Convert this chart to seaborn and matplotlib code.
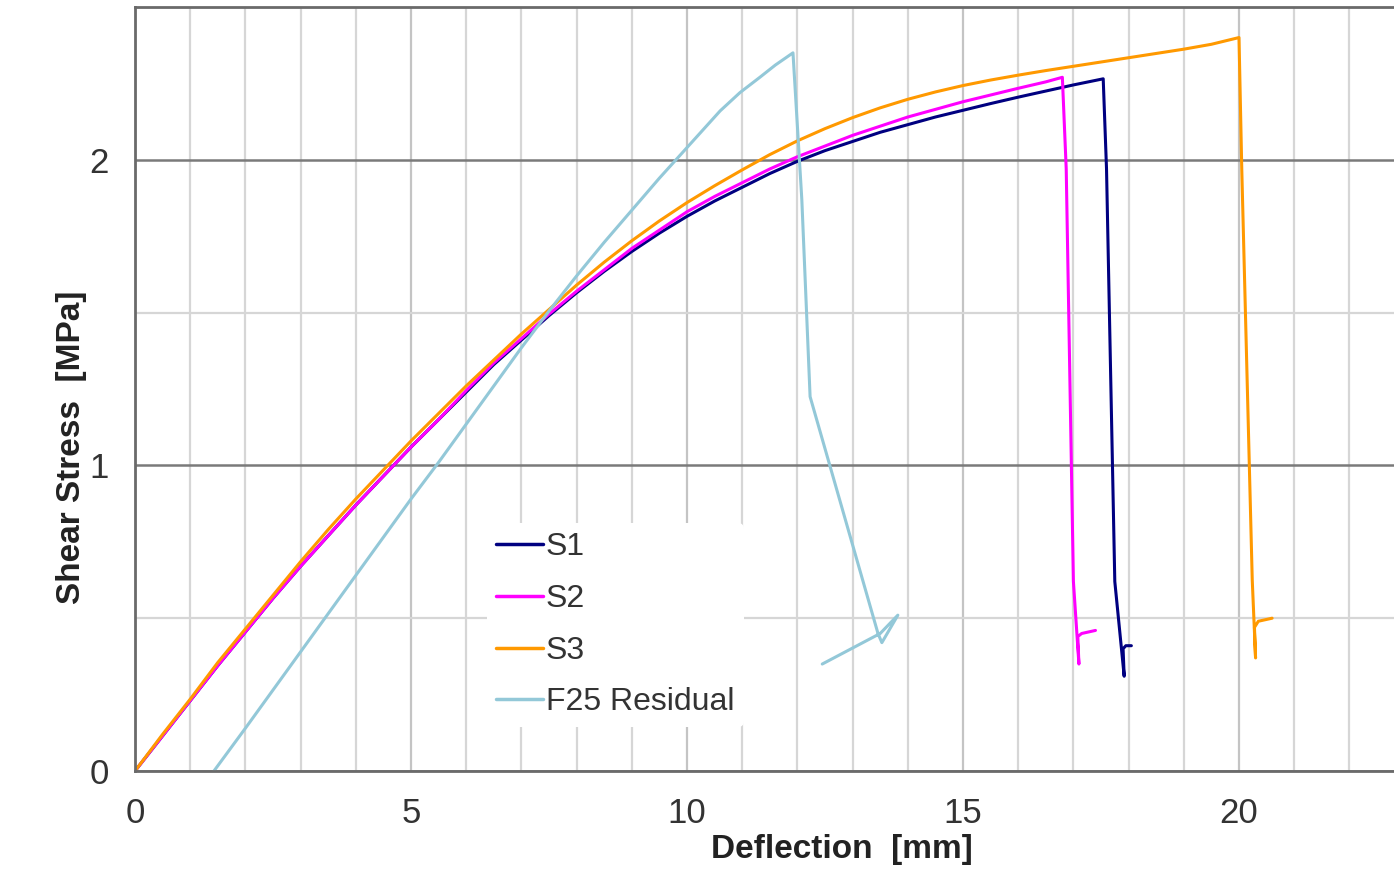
import numpy as np
import pandas as pd
import matplotlib
matplotlib.use("Agg")
import matplotlib.pyplot as plt
from matplotlib.ticker import MultipleLocator
import seaborn as sns

# --- data (deflection mm, shear stress MPa) ---
s1_x = [0, 0.5, 1.0, 1.5, 2.0, 2.5, 3.0, 3.5, 4.0, 4.5, 5.0, 5.5, 6.0, 6.5, 7.0, 7.5, 8.0, 8.5, 9.0, 9.5,
        10.0, 10.5, 11.0, 11.5, 12.0, 12.5, 13.0, 13.5, 14.0, 14.5, 15.0, 15.5, 16.0, 16.5, 17.0, 17.54,
        17.6, 17.75, 17.92, 17.9, 17.95, 18.05]
s1_y = [0, 0.115, 0.23, 0.345, 0.455, 0.565, 0.67, 0.77, 0.87, 0.965, 1.06, 1.15, 1.24, 1.33, 1.41, 1.49,
        1.565, 1.635, 1.70, 1.76, 1.815, 1.865, 1.91, 1.955, 1.995, 2.03, 2.06, 2.09, 2.115, 2.14, 2.162,
        2.184, 2.205, 2.225, 2.245, 2.265, 1.97, 0.62, 0.31, 0.40, 0.41, 0.41]

s2_x = [0, 0.5, 1.0, 1.5, 2.0, 2.5, 3.0, 3.5, 4.0, 4.5, 5.0, 5.5, 6.0, 6.5, 7.0, 7.5, 8.0, 8.5, 9.0, 9.5,
        10.0, 10.5, 11.0, 11.5, 12.0, 12.5, 13.0, 13.5, 14.0, 14.5, 15.0, 15.5, 16.0, 16.5, 16.8,
        16.87, 17.0, 17.1, 17.08, 17.15, 17.4]
s2_y = [0, 0.115, 0.23, 0.345, 0.455, 0.565, 0.67, 0.77, 0.87, 0.965, 1.06, 1.15, 1.245, 1.335, 1.415, 1.495,
        1.57, 1.64, 1.71, 1.77, 1.83, 1.88, 1.925, 1.97, 2.01, 2.045, 2.08, 2.11, 2.14, 2.165, 2.19,
        2.212, 2.234, 2.255, 2.27, 1.97, 0.62, 0.35, 0.44, 0.45, 0.46]

s3_x = [0, 0.5, 1.0, 1.5, 2.0, 2.5, 3.0, 3.5, 4.0, 4.5, 5.0, 5.5, 6.0, 6.5, 7.0, 7.5, 8.0, 8.5, 9.0, 9.5,
        10.0, 10.5, 11.0, 11.5, 12.0, 12.5, 13.0, 13.5, 14.0, 14.5, 15.0, 15.5, 16.0, 16.5, 17.0, 17.5,
        18.0, 18.5, 19.0, 19.5, 20.0, 20.05, 20.24, 20.3, 20.28, 20.35, 20.6]
s3_y = [0, 0.12, 0.235, 0.355, 0.465, 0.575, 0.685, 0.79, 0.89, 0.985, 1.08, 1.17, 1.26, 1.345, 1.43, 1.51,
        1.59, 1.665, 1.735, 1.80, 1.86, 1.915, 1.967, 2.017, 2.062, 2.102, 2.138, 2.17, 2.198, 2.222, 2.243,
        2.261, 2.277, 2.292, 2.306, 2.32, 2.334, 2.348, 2.362, 2.378, 2.40, 1.97, 0.625, 0.37, 0.47, 0.49, 0.50]

f25_x = [1.43, 2.0, 2.5, 3.0, 3.5, 4.0, 4.5, 5.0, 5.5, 6.0, 6.5, 7.0, 7.5, 8.0, 8.5, 9.0, 9.5, 10.0, 10.3,
         10.6, 10.96, 11.32, 11.6, 11.92, 12.08, 12.23, 13.46, 13.53, 13.82, 13.5, 12.45]
f25_y = [0, 0.14, 0.265, 0.39, 0.515, 0.64, 0.765, 0.89, 1.01, 1.135, 1.26, 1.385, 1.505, 1.62, 1.73, 1.835,
         1.94, 2.04, 2.10, 2.16, 2.22, 2.27, 2.31, 2.35, 1.87, 1.225, 0.45, 0.42, 0.51, 0.45, 0.35]

series = ["S1", "S2", "S3", "F25 Residual"]
colors = ["#000080", "#FF00FF", "#FF9900", "#93C8D8"]
x_ticks = [0, 5, 10, 15, 20]

df = pd.concat([
    pd.DataFrame({"Deflection": s1_x, "Stress": s1_y, "Series": "S1"}),
    pd.DataFrame({"Deflection": s2_x, "Stress": s2_y, "Series": "S2"}),
    pd.DataFrame({"Deflection": s3_x, "Stress": s3_y, "Series": "S3"}),
    pd.DataFrame({"Deflection": f25_x, "Stress": f25_y, "Series": "F25 Residual"}),
], ignore_index=True)

sns.set_style("white")
plt.rcParams["font.family"] = ["Liberation Sans", "DejaVu Sans"]

fig = plt.figure(figsize=(13.94, 8.69), dpi=100)
ax = fig.add_axes([135 / 1394, 1 - 771 / 869, 1380 / 1394, 764 / 869])

sns.lineplot(data=df, x="Deflection", y="Stress", hue="Series", hue_order=series,
             palette=dict(zip(series, colors)), sort=False, estimator=None,
             linewidth=2.2, ax=ax)

ax.set_xlim(0, 25)
ax.set_ylim(0, 2.5)

# grid
ax.set_xticks(x_ticks)
ax.xaxis.set_minor_locator(MultipleLocator(1))
ax.yaxis.set_major_locator(MultipleLocator(1))
ax.yaxis.set_minor_locator(MultipleLocator(0.5))
ax.grid(True, which="minor", axis="x", color="#d6d6d6", linewidth=1.6)
ax.grid(True, which="major", axis="x", color="#c4c4c4", linewidth=1.6)
ax.grid(True, which="minor", axis="y", color="#d6d6d6", linewidth=1.6)
ax.grid(True, which="major", axis="y", color="#7a7a7a", linewidth=1.8)
ax.set_axisbelow(True)

for side in ["left", "bottom", "top"]:
    ax.spines[side].set_color("#6a6a6a")
    ax.spines[side].set_linewidth(2)
ax.spines["right"].set_visible(False)

ax.tick_params(axis="both", which="major", direction="out", length=9, width=1.6,
               color="#6a6a6a", labelsize=25, labelcolor="#333333", pad=10)
ax.tick_params(axis="both", which="minor", length=0)

ax.set_xlabel("Deflection  [mm]", fontsize=24, fontweight="bold", color="#222222")
ax.set_ylabel("Shear Stress  [MPa]", fontsize=24, fontweight="bold", color="#222222")
ax.xaxis.set_label_coords(0.512, -0.083)
ax.yaxis.set_label_coords(-0.035, 0.424)

handles, labels = ax.get_legend_handles_labels()
leg = ax.legend(handles, labels, loc="upper left", bbox_to_anchor=(0.255, 0.325),
                fontsize=23, frameon=True, facecolor="white", edgecolor="none",
                framealpha=1, handlelength=1.45, handletextpad=0.1,
                labelspacing=0.68, borderpad=0.3, borderaxespad=0)
for line in leg.get_lines():
    line.set_linewidth(2.5)
for t in leg.get_texts():
    t.set_color("#333333")

fig.savefig("out.png", dpi=100)
